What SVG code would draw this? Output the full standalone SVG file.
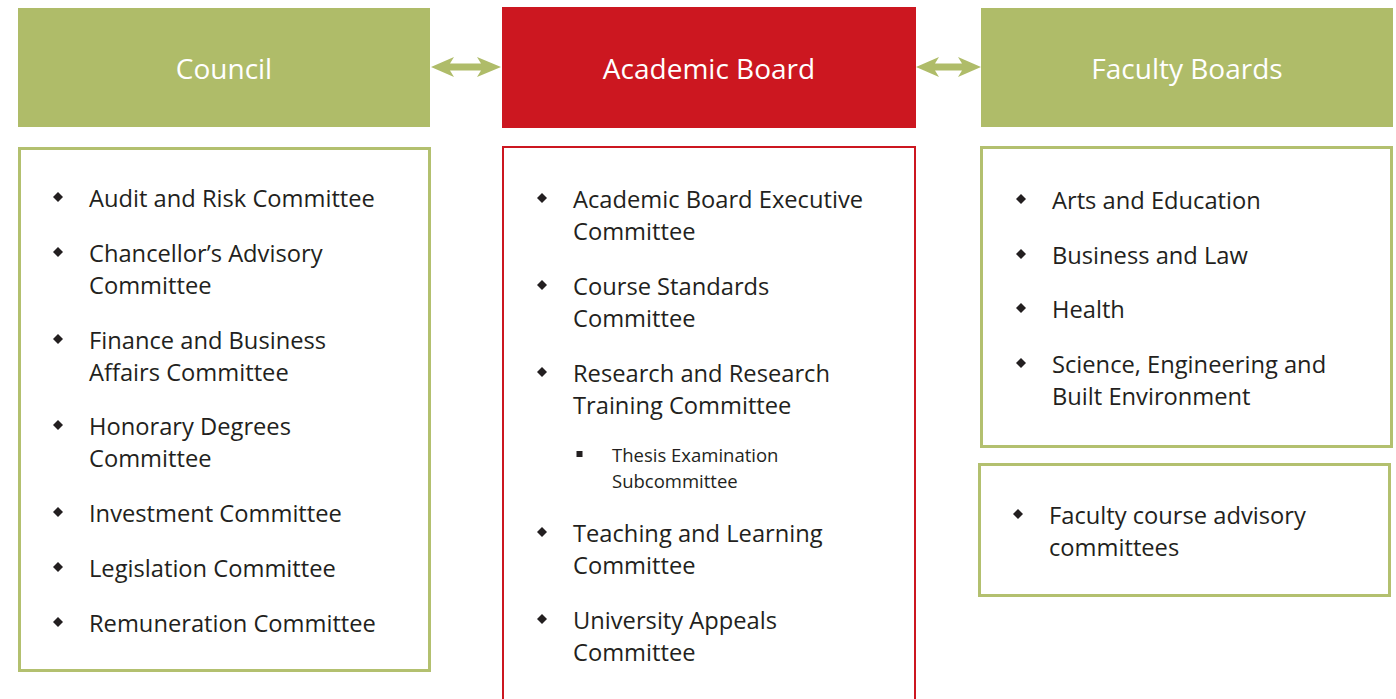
<svg xmlns="http://www.w3.org/2000/svg" width="1396" height="699" viewBox="0 0 1396 699">
<defs>
<style>
.hdr-g{fill:#AFBC69}
.hdr-r{fill:#CC1720}
.htxt{font-family:"Open Sans","Liberation Sans",sans-serif;font-size:28px;fill:#FFFFFF;text-anchor:middle}
.box-g{fill:#FFFFFF;stroke:#B3C06F;stroke-width:3}
.box-r{fill:#FFFFFF;stroke:#CC1720;stroke-width:2}
.item{font-family:"Open Sans","Liberation Sans",sans-serif;font-size:23.7px;fill:#231F20}
.sub{font-family:"Open Sans","Liberation Sans",sans-serif;font-size:18.5px;fill:#231F20}
.arrow{fill:#AFBC69}
.dot{fill:#231F20}
</style>
<path id="dia" d="M0,-5 L5,0 L0,5 L-5,0 Z"/>
</defs>

<g id="council">
<rect class="hdr-g" x="18" y="8" width="412" height="119"/>
<text class="htxt" x="224" y="79">Council</text>
</g>
<g id="academic-board">
<rect class="hdr-r" x="502" y="7" width="414" height="121"/>
<text class="htxt" x="709" y="79">Academic Board</text>
</g>
<g id="faculty-boards">
<rect class="hdr-g" x="981" y="8" width="412" height="119"/>
<text class="htxt" x="1187" y="79">Faculty Boards</text>
</g>

<g id="council-committees">
<rect class="box-g" x="19.5" y="148.5" width="410" height="522"/>
<use href="#dia" class="dot" x="58" y="197"/>
<text class="item" x="89" y="207">Audit and Risk Committee</text>
<use href="#dia" class="dot" x="58" y="252"/>
<text class="item" x="89" y="262">Chancellor’s Advisory</text>
<text class="item" x="89" y="294">Committee</text>
<use href="#dia" class="dot" x="58" y="339"/>
<text class="item" x="89" y="349">Finance and Business</text>
<text class="item" x="89" y="381">Affairs Committee</text>
<use href="#dia" class="dot" x="58" y="425"/>
<text class="item" x="89" y="435">Honorary Degrees</text>
<text class="item" x="89" y="467">Committee</text>
<use href="#dia" class="dot" x="58" y="512"/>
<text class="item" x="89" y="522">Investment Committee</text>
<use href="#dia" class="dot" x="58" y="567"/>
<text class="item" x="89" y="577">Legislation Committee</text>
<use href="#dia" class="dot" x="58" y="622"/>
<text class="item" x="89" y="632">Remuneration Committee</text>
</g>

<g id="academic-committees">
<rect class="box-r" x="503" y="147" width="412" height="560"/>
<use href="#dia" class="dot" x="542" y="198"/>
<text class="item" x="573" y="208">Academic Board Executive</text>
<text class="item" x="573" y="240">Committee</text>
<use href="#dia" class="dot" x="542" y="285"/>
<text class="item" x="573" y="295">Course Standards</text>
<text class="item" x="573" y="327">Committee</text>
<use href="#dia" class="dot" x="542" y="372"/>
<text class="item" x="573" y="382">Research and Research</text>
<text class="item" x="573" y="414">Training Committee</text>
<rect class="dot" x="576.5" y="451" width="6" height="6"/>
<text class="sub" x="612" y="462">Thesis Examination</text>
<text class="sub" x="612" y="488">Subcommittee</text>
<use href="#dia" class="dot" x="542" y="532"/>
<text class="item" x="573" y="542">Teaching and Learning</text>
<text class="item" x="573" y="574">Committee</text>
<use href="#dia" class="dot" x="542" y="619"/>
<text class="item" x="573" y="629">University Appeals</text>
<text class="item" x="573" y="661">Committee</text>
</g>

<g id="faculty-list">
<rect class="box-g" x="981.5" y="147.5" width="410" height="299"/>
<use href="#dia" class="dot" x="1021" y="199"/>
<text class="item" x="1052" y="209">Arts and Education</text>
<use href="#dia" class="dot" x="1021" y="254"/>
<text class="item" x="1052" y="264">Business and Law</text>
<use href="#dia" class="dot" x="1021" y="308"/>
<text class="item" x="1052" y="318">Health</text>
<use href="#dia" class="dot" x="1021" y="363"/>
<text class="item" x="1052" y="373">Science, Engineering and</text>
<text class="item" x="1052" y="405">Built Environment</text>
</g>

<g id="faculty-advisory">
<rect class="box-g" x="979.5" y="464.5" width="410" height="131"/>
<use href="#dia" class="dot" x="1018" y="514"/>
<text class="item" x="1049" y="524">Faculty course advisory</text>
<text class="item" x="1049" y="556">committees</text>
</g>

<g id="connectors">
<polygon class="arrow" points="431,67 454,57 450,63.5 481,63.5 477,57 501,67 477,77 481,70.5 450,70.5 454,77"/>
<polygon class="arrow" points="916,67 939,57 935,63.5 962,63.5 958,57 981,67 958,77 962,70.5 935,70.5 939,77"/>
</g>
</svg>
